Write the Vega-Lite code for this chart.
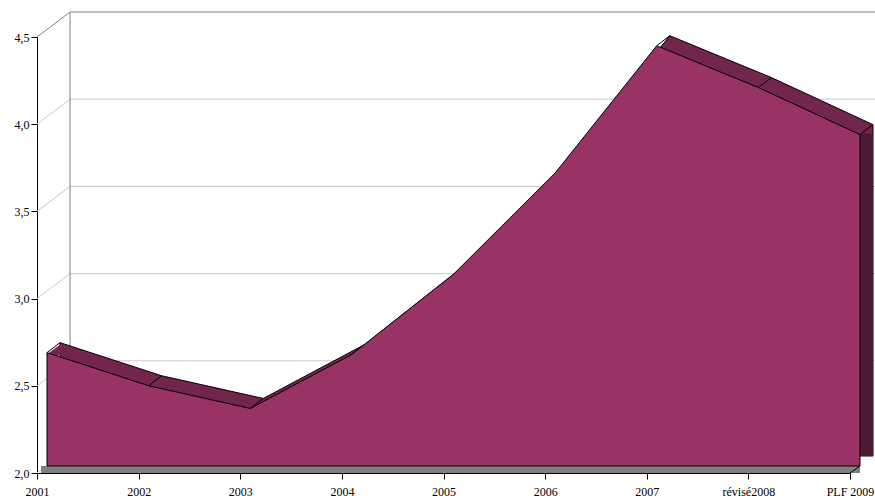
{
  "$schema": "https://vega.github.io/schema/vega-lite/v6.json",
  "width": 813,
  "height": 436,
  "autosize": "none",
  "padding": {"left": 37, "top": 37, "right": 25, "bottom": 25},
  "background": "white",
  "config": {
    "view": {"stroke": null},
    "font": "Liberation Serif",
    "axis": {
      "labelFont": "Liberation Serif",
      "labelFontSize": 12,
      "labelColor": "black",
      "domainColor": "black",
      "tickColor": "black",
      "tickSize": 6,
      "grid": false,
      "title": null,
      "zindex": 1
    }
  },
  "datasets": {
    "series": [
      {"year": "2001", "v": 2.65},
      {"year": "2002", "v": 2.46},
      {"year": "2003", "v": 2.33},
      {"year": "2004", "v": 2.64},
      {"year": "2005", "v": 3.10},
      {"year": "2006", "v": 3.68},
      {"year": "2007", "v": 4.41},
      {"year": "révisé2008", "v": 4.17},
      {"year": "PLF 2009", "v": 3.90}
    ],
    "levels": [
      {"v": 2.0}, {"v": 2.5}, {"v": 3.0}, {"v": 3.5}, {"v": 4.0}
    ],
    "frame": [{}]
  },
  "layer": [
    {
      "description": "side wall: diagonals from the value axis to the back wall",
      "data": {"name": "levels"},
      "mark": {"type": "rule", "color": "#c8c8c8", "x2Offset": 33, "y2Offset": -25},
      "encoding": {
        "x": {"datum": "2001", "type": "ordinal",
              "scale": {"type": "point", "padding": 0,
                        "domain": ["2001", "2002", "2003", "2004", "2005", "2006", "2007", "révisé2008", "PLF 2009"]}},
        "x2": {"datum": "2001"},
        "y": {"field": "v", "type": "quantitative",
              "scale": {"domain": [2, 4.5], "nice": false, "zero": false}},
        "y2": {"field": "v"}
      }
    },
    {
      "description": "back wall gridlines",
      "data": {"name": "levels"},
      "transform": [{"filter": "datum.v > 2"}],
      "mark": {"type": "rule", "color": "#c8c8c8", "xOffset": 33, "x2Offset": 45, "yOffset": -25},
      "encoding": {
        "x": {"datum": "2001", "type": "ordinal"},
        "x2": {"datum": "PLF 2009"},
        "y": {"field": "v", "type": "quantitative"}
      }
    },
    {
      "description": "top edge of the walls",
      "data": {"name": "frame"},
      "mark": {"type": "rule", "color": "#808080", "x2Offset": 33, "y2Offset": -25},
      "encoding": {
        "x": {"datum": "2001", "type": "ordinal"},
        "x2": {"datum": "2001"},
        "y": {"datum": 4.5, "type": "quantitative"},
        "y2": {"datum": 4.5}
      }
    },
    {
      "data": {"name": "frame"},
      "mark": {"type": "rule", "color": "#808080", "xOffset": 33, "x2Offset": 45, "yOffset": -25},
      "encoding": {
        "x": {"datum": "2001", "type": "ordinal"},
        "x2": {"datum": "PLF 2009"},
        "y": {"datum": 4.5, "type": "quantitative"}
      }
    },
    {
      "description": "back wall left edge",
      "data": {"name": "frame"},
      "mark": {"type": "rule", "color": "#808080", "xOffset": 33, "yOffset": -25, "y2Offset": -25},
      "encoding": {
        "x": {"datum": "2001", "type": "ordinal"},
        "y": {"datum": 2.0, "type": "quantitative"},
        "y2": {"datum": 4.5}
      }
    },
    {
      "description": "floor strip in front of the series",
      "data": {"name": "frame"},
      "mark": {"type": "rule", "color": "#808080", "strokeWidth": 7, "strokeCap": "butt", "xOffset": 4, "x2Offset": 10, "yOffset": -3.5},
      "encoding": {
        "x": {"datum": "2001", "type": "ordinal"},
        "x2": {"datum": "PLF 2009"},
        "y": {"datum": 2.0, "type": "quantitative"}
      }
    },
    {
      "data": {"name": "frame"},
      "mark": {"type": "rule", "color": "black", "x2Offset": 10, "y2Offset": -7},
      "encoding": {
        "x": {"datum": "PLF 2009", "type": "ordinal"},
        "x2": {"datum": "PLF 2009"},
        "y": {"datum": 2.0, "type": "quantitative"},
        "y2": {"datum": 2.0}
      }
    },
    {
      "description": "rear copy of the area: shows as the top strip",
      "data": {"name": "series"},
      "mark": {"type": "area", "color": "#73264d", "stroke": "black", "strokeWidth": 1, "xOffset": 23, "yOffset": -17, "y2Offset": -17},
      "encoding": {
        "x": {"field": "year", "type": "ordinal"},
        "y": {"field": "v", "type": "quantitative"},
        "y2": {"datum": 2.0}
      }
    },
    {
      "description": "fills the left corner of the top strip",
      "data": {"name": "series"},
      "transform": [{"filter": "datum.year === '2001'"}],
      "mark": {"type": "rule", "color": "#73264d", "strokeWidth": 8, "strokeCap": "butt", "xOffset": 12, "x2Offset": 27, "yOffset": -2, "y2Offset": -13},
      "encoding": {
        "x": {"field": "year", "type": "ordinal"},
        "x2": {"field": "year"},
        "y": {"field": "v", "type": "quantitative"},
        "y2": {"field": "v"}
      }
    },
    {
      "description": "right-hand side face",
      "data": {"name": "series"},
      "transform": [{"filter": "datum.year === 'PLF 2009'"}],
      "mark": {"type": "rule", "color": "#4d1a33", "strokeWidth": 13, "strokeCap": "butt", "xOffset": 16.5, "yOffset": -8, "y2Offset": -17},
      "encoding": {
        "x": {"field": "year", "type": "ordinal"},
        "y": {"field": "v", "type": "quantitative"},
        "y2": {"datum": 2.0}
      }
    },
    {
      "description": "depth edges at each category",
      "data": {"name": "series"},
      "mark": {"type": "rule", "color": "black", "xOffset": 10, "x2Offset": 23, "yOffset": -7, "y2Offset": -17},
      "encoding": {
        "x": {"field": "year", "type": "ordinal"},
        "x2": {"field": "year"},
        "y": {"field": "v", "type": "quantitative"},
        "y2": {"field": "v"}
      }
    },
    {
      "description": "front face of the area",
      "data": {"name": "series"},
      "mark": {"type": "area", "color": "#993366", "stroke": "black", "strokeWidth": 1, "xOffset": 10, "yOffset": -7, "y2Offset": -7},
      "encoding": {
        "x": {"field": "year", "type": "ordinal",
              "axis": {"labelAngle": 0, "labelAlign": "center", "labelBaseline": "alphabetic", "labelPadding": 16, "labelOverlap": false}},
        "y": {"field": "v", "type": "quantitative",
              "axis": {"values": [2, 2.5, 3, 3.5, 4, 4.5], "labelPadding": 2,
                       "labelExpr": "replace(format(datum.value, '.1f'), '.', ',')"}},
        "y2": {"datum": 2.0}
      }
    }
  ]
}
